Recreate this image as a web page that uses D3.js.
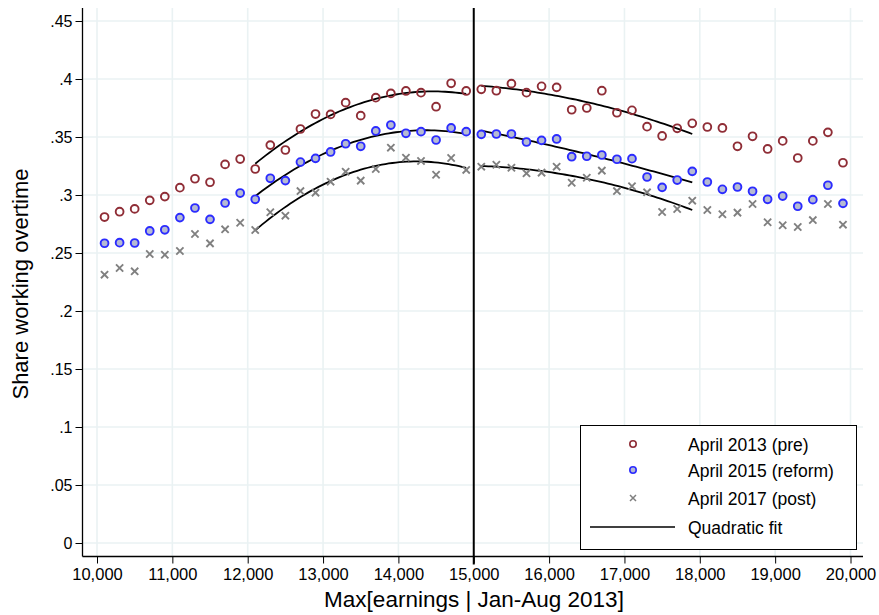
<!DOCTYPE html>
<html><head><meta charset="utf-8">
<script src="https://cdn.jsdelivr.net/npm/d3@7"></script>
<style>body{margin:0;background:#fff}svg{display:block;font-family:"Liberation Sans",Arial,sans-serif}</style>
</head><body><svg id="c" width="879" height="615"></svg>
<script>
const bins = [10100,10300,10500,10700,10900,11100,11300,11500,11700,11900,12100,12300,12500,12700,12900,13100,13300,13500,13700,13900,14100,14300,14500,14700,14900,
15100,15300,15500,15700,15900,16100,16300,16500,16700,16900,17100,17300,17500,17700,17900,18100,18300,18500,18700,18900,19100,19300,19500,19700,19900];
const pre2013 = [.281,.2856,.288,.2954,.2986,.3063,.314,.311,.3264,.331,.3224,.343,.3388,.3569,.3698,.3695,.3796,.3684,.3839,.3876,.3897,.3882,.3761,.3963,.3897,
.3911,.3899,.396,.3882,.3937,.3928,.3735,.375,.3899,.3709,.373,.3589,.3509,.3575,.3618,.3586,.3578,.342,.3506,.3397,.3466,.3319,.3466,.354,.3278];
const reform2015 = [.2584,.2589,.2586,.269,.270,.2805,.2888,.279,.2931,.3017,.2963,.3144,.3124,.3284,.3316,.3371,.3442,.342,.3552,.3603,.3532,.3546,.3474,.3578,.3546,
.3523,.3526,.3526,.3457,.3471,.3483,.333,.3334,.3345,.3308,.3313,.3155,.3066,.3129,.3204,.3112,.3049,.3069,.3032,.2963,.2991,.2903,.296,.3084,.2928];
const post2017 = [.2313,.2371,.2342,.2491,.2485,.2517,.2664,.2583,.2704,.2761,.2698,.2851,.2822,.3034,.302,.3115,.3201,.3124,.3224,.3408,.3322,.3293,.3175,.3319,.3216,
.3244,.3261,.3235,.3187,.3193,.3244,.3106,.3149,.321,.3034,.3075,.3023,.2853,.2879,.2951,.2871,.2834,.2848,.2922,.2765,.2739,.2724,.2784,.2922,.2744];
const xTicks = [10000,11000,12000,13000,14000,15000,16000,17000,18000,19000,20000];
const yTicks = [0,.05,.1,.15,.2,.25,.3,.35,.4,.45];
const yTickLabels = ["0",".05",".1",".15",".2",".25",".3",".35",".4",".45"];
const fitRanges = [[12000,15000],[15000,18000]];
const cutoff = 15000;
const legendLabels = ["April 2013 (pre)","April 2015 (reform)","April 2017 (post)","Quadratic fit"];

const svg = d3.select("#c");
const x = d3.scaleLinear().domain([10000,20000]).range([97,850.5]);
const y = d3.scaleLinear().domain([0,.45]).range([543,21]);
const axX0=82.5, axX1=863, axY=556.5, axTop=8;
const FF="'Liberation Sans',Arial,sans-serif";

// grid
const g = svg.append("g");
g.selectAll(".vg").data(xTicks).join("line").attr("x1",d=>x(d)).attr("x2",d=>x(d)).attr("y1",axTop).attr("y2",axY)
 .attr("stroke","#EAF2F3").attr("stroke-width",1.6);
g.selectAll(".hg").data(yTicks).join("line").attr("x1",axX0).attr("x2",axX1).attr("y1",d=>y(d)).attr("y2",d=>y(d))
 .attr("stroke","#EAF2F3").attr("stroke-width",1.6);

// axes
const xa = svg.append("g").attr("transform",`translate(0,${axY})`)
 .call(d3.axisBottom(x).tickValues(xTicks).tickFormat(d3.format(",")).tickSize(7).tickPadding(5));
xa.select(".domain").remove();
xa.append("line").attr("x1",axX0).attr("x2",axX1).attr("stroke","#000").attr("stroke-width",1.3);
xa.selectAll("text").attr("font-size",16.5).attr("fill","#000").attr("font-family",FF);
xa.selectAll(".tick line").attr("stroke","#000");
const ya = svg.append("g").attr("transform",`translate(${axX0},0)`)
 .call(d3.axisLeft(y).tickValues(yTicks).tickFormat((d,i)=>yTickLabels[i]).tickSize(7).tickPadding(3));
ya.select(".domain").remove();
ya.append("line").attr("y1",axTop).attr("y2",axY).attr("stroke","#000").attr("stroke-width",1.3);
ya.selectAll("text").attr("font-size",16).attr("fill","#000").attr("font-family",FF);
ya.selectAll(".tick line").attr("stroke","#000");

svg.append("text").attr("x",474).attr("y",607).attr("text-anchor","middle").attr("font-size",22.5).text("Max[earnings | Jan-Aug 2013]");
svg.append("text").attr("transform","translate(28,284) rotate(-90)").attr("text-anchor","middle").attr("font-size",22).text("Share working overtime");

// cutoff line
svg.append("line").attr("x1",x(cutoff)).attr("x2",x(cutoff)).attr("y1",axTop).attr("y2",axY+8).attr("stroke","#000").attr("stroke-width",2);

// quadratic fit
function quadFit(xs, ys){
  const xm = d3.mean(xs);
  const S = [[0,0,0],[0,0,0],[0,0,0]], b=[0,0,0];
  xs.forEach((xv,i)=>{const t=(xv-xm)/1000; const v=[1,t,t*t];
    for(let r=0;r<3;r++){b[r]+=v[r]*ys[i]; for(let c=0;c<3;c++) S[r][c]+=v[r]*v[c];}});
  const A=S.map((r,i)=>[...r,b[i]]);
  for(let i=0;i<3;i++){let p=i;for(let k=i+1;k<3;k++) if(Math.abs(A[k][i])>Math.abs(A[p][i])) p=k;[A[i],A[p]]=[A[p],A[i]];
    for(let k=i+1;k<3;k++){const f=A[k][i]/A[i][i]; for(let c=i;c<4;c++) A[k][c]-=f*A[i][c];}}
  const co=[0,0,0];
  for(let i=2;i>=0;i--){let s=A[i][3]; for(let c=i+1;c<3;c++) s-=A[i][c]*co[c]; co[i]=s/A[i][i];}
  return t=>{const u=(t-xm)/1000; return co[0]+co[1]*u+co[2]*u*u;};
}
const line = d3.line().x(d=>x(d[0])).y(d=>y(d[1])).curve(d3.curveLinear);
[pre2013,reform2015,post2017].forEach(series=>{
  fitRanges.forEach(([lo,hi])=>{
    const idx = bins.map((b,i)=>i).filter(i=>bins[i]>lo && bins[i]<hi);
    const xs = idx.map(i=>bins[i]), ys = idx.map(i=>series[i]);
    const f = quadFit(xs,ys);
    const pts = d3.range(0,61).map(k=>{const t=xs[0]+(xs[xs.length-1]-xs[0])*k/60; return [t,f(t)];});
    svg.append("path").attr("d",line(pts)).attr("fill","none").attr("stroke","#000").attr("stroke-width",1.8);
  });
});

// markers
const redC="#8F2D36", blueC="#2B2BFF", blueF="#B5BAD3", grayC="#808080";
svg.append("g").selectAll("circle").data(bins).join("circle").attr("cx",d=>x(d)).attr("cy",(d,i)=>y(pre2013[i])).attr("r",3.9)
  .attr("fill","none").attr("stroke",redC).attr("stroke-width",1.9);
svg.append("g").selectAll("circle").data(bins).join("circle").attr("cx",d=>x(d)).attr("cy",(d,i)=>y(reform2015[i])).attr("r",3.9)
  .attr("fill",blueF).attr("stroke",blueC).attr("stroke-width",1.9);
const xm = svg.append("g");
bins.forEach((b,i)=>{const cx=x(b), cy=y(post2017[i]), s=3.6;
  xm.append("path").attr("d",`M${cx-s},${cy-s}L${cx+s},${cy+s}M${cx-s},${cy+s}L${cx+s},${cy-s}`).attr("stroke",grayC).attr("stroke-width",1.9);});

// legend
const lg = svg.append("g");
lg.append("rect").attr("x",580.5).attr("y",425.5).attr("width",276).attr("height",124).attr("fill","#fff").attr("stroke","#000").attr("stroke-width",1);
const ly=[444,470,498,527], mx=633;
lg.append("circle").attr("cx",mx).attr("cy",ly[0]).attr("r",3.2).attr("fill","none").attr("stroke",redC).attr("stroke-width",1.6);
lg.append("circle").attr("cx",mx).attr("cy",ly[1]).attr("r",3.2).attr("fill",blueF).attr("stroke",blueC).attr("stroke-width",1.6);
lg.append("path").attr("d",`M${mx-3},${ly[2]-3}L${mx+3},${ly[2]+3}M${mx-3},${ly[2]+3}L${mx+3},${ly[2]-3}`).attr("stroke",grayC).attr("stroke-width",1.5);
lg.append("line").attr("x1",590).attr("x2",675).attr("y1",ly[3]).attr("y2",ly[3]).attr("stroke","#000").attr("stroke-width",1.6);
legendLabels.forEach((t,i)=>lg.append("text").attr("x",688).attr("y",ly[i]+6.5).attr("font-size",17.5).text(t));
</script></body></html>
